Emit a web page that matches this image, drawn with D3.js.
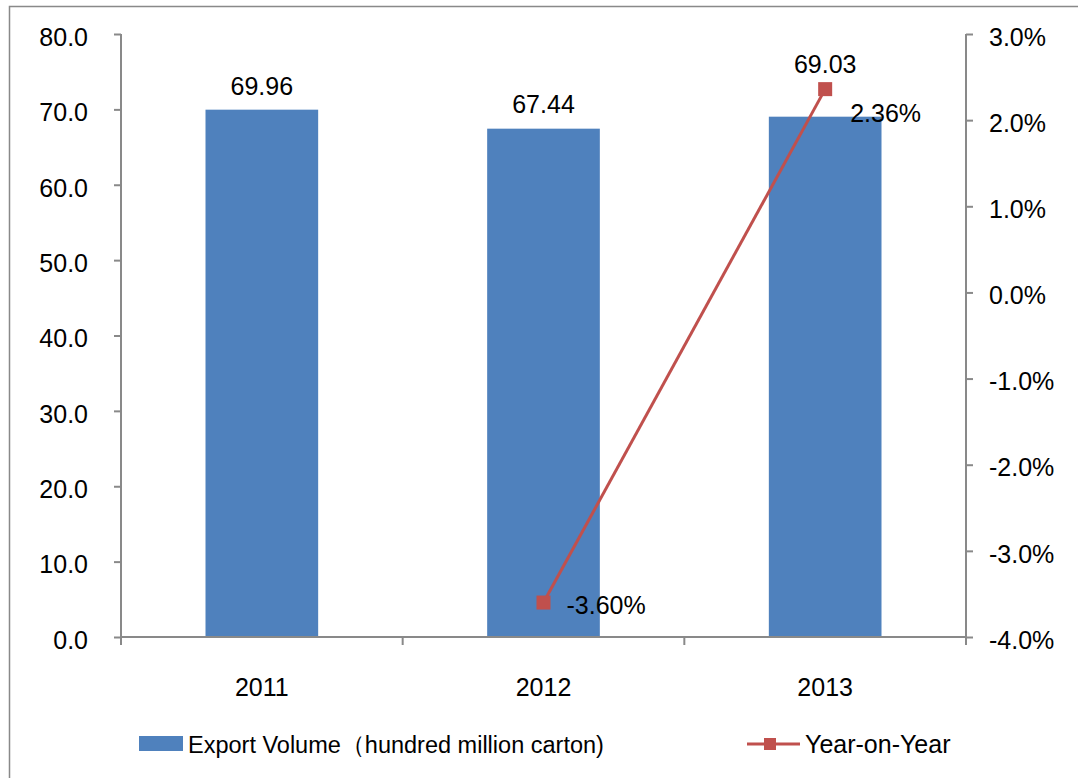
<!DOCTYPE html>
<html>
<head>
<meta charset="utf-8">
<script src="https://cdn.jsdelivr.net/npm/d3@7"></script>
<style>
  html, body { margin: 0; padding: 0; background: #fff; }
  svg { display: block; }
  text { font-family: "Liberation Sans", Arial, sans-serif; fill: #000; }
</style>
</head>
<body>
<svg id="chart" width="1078" height="778"></svg>
<script>
const categories = ["2011", "2012", "2013"];
const exportVolume = [69.96, 67.44, 69.03];
const yoy = [null, -3.60, 2.36];
const leftTicks = [0, 10, 20, 30, 40, 50, 60, 70, 80];
const rightTicks = [-4, -3, -2, -1, 0, 1, 2, 3];
const legendLabels = ["Export Volume（hundred million carton)", "Year-on-Year"];

const barColor = "#4F81BD";
const lineColor = "#C0504D";
const axisColor = "#898989";
const fs = 25;

const svg = d3.select("#chart");
const m = { left: 121, right: 966, top: 34, bottom: 637 };

// outer border
svg.append("rect").attr("x", 9.5).attr("y", 6.5).attr("width", 1100).attr("height", 800)
  .attr("fill", "none").attr("stroke", axisColor).attr("stroke-width", 1.5);

const x = d3.scaleBand().domain(categories).range([m.left, m.right]).paddingInner(0.6).paddingOuter(0.3);
const xOuter = d3.scaleBand().domain(categories).range([m.left, m.right]);
const yL = d3.scaleLinear().domain([0, 80]).range([m.bottom, m.top]);
const yR = d3.scaleLinear().domain([-4, 3]).range([m.bottom, m.top]);
const fmt1 = v => d3.format(".1f")(v).replace("−", "-");

// bars
svg.append("g").selectAll("rect").data(categories).join("rect")
  .attr("x", d => x(d)).attr("width", x.bandwidth())
  .attr("y", (d, i) => yL(exportVolume[i]))
  .attr("height", (d, i) => yL(0) - yL(exportVolume[i]))
  .attr("fill", barColor);

// left axis
const gL = svg.append("g").attr("transform", `translate(${m.left},0)`)
  .call(d3.axisLeft(yL).tickValues(leftTicks).tickFormat(fmt1).tickSize(7).tickPadding(26));
// right axis
const gR = svg.append("g").attr("transform", `translate(${m.right},0)`)
  .call(d3.axisRight(yR).tickValues(rightTicks).tickFormat(d => fmt1(d) + "%").tickSize(7).tickPadding(16));
// bottom axis
const gB = svg.append("g").attr("transform", `translate(0,${m.bottom})`)
  .call(d3.axisBottom(xOuter).tickSize(0).tickPadding(41));
const boundaries = [m.left].concat(categories.map(c => xOuter(c) + xOuter.bandwidth()));
gB.selectAll("line.bnd").data(boundaries).join("line").attr("class", "bnd")
  .attr("x1", d => d).attr("x2", d => d).attr("y1", 0).attr("y2", 8)
  .attr("stroke", axisColor).attr("stroke-width", 2);

[gL, gR, gB].forEach(g => {
  g.select(".domain").attr("stroke", axisColor).attr("stroke-width", 2);
  g.selectAll(".tick line").attr("stroke", axisColor).attr("stroke-width", 2);
  g.selectAll("text").attr("font-size", fs).attr("font-family", "Liberation Sans, Arial, sans-serif").attr("fill", "#000");
});
gL.selectAll(".tick text").attr("dy", "0.45em");
gR.selectAll(".tick text").attr("dy", "0.45em");
gL.select(".domain").attr("d", `M0,${m.top}V${m.bottom}`);
gR.select(".domain").attr("d", `M0,${m.top}V${m.bottom}`);
gB.select(".domain").attr("d", `M${m.left},0H${m.right}`);

// bar labels
const barLabelLift = [15, 16, 44];
svg.append("g").selectAll("text").data(categories).join("text")
  .attr("x", d => x(d) + x.bandwidth() / 2)
  .attr("y", (d, i) => yL(exportVolume[i]) - barLabelLift[i])
  .attr("text-anchor", "middle").attr("font-size", fs)
  .text((d, i) => exportVolume[i].toFixed(2));

// line
const pts = categories.map((c, i) => ({ c, v: yoy[i] })).filter(p => p.v !== null);
const cx = c => x(c) + x.bandwidth() / 2;
svg.append("path").datum(pts)
  .attr("d", d3.line().x(p => cx(p.c)).y(p => yR(p.v)))
  .attr("fill", "none").attr("stroke", lineColor).attr("stroke-width", 3);
svg.append("g").selectAll("rect").data(pts).join("rect")
  .attr("x", p => cx(p.c) - 7).attr("y", p => yR(p.v) - 7)
  .attr("width", 14).attr("height", 14).attr("fill", lineColor);

// line labels
const lineLabelOffset = [[23, 11], [25, 33]];
svg.append("g").selectAll("text").data(pts).join("text")
  .attr("x", (p, i) => cx(p.c) + lineLabelOffset[i][0])
  .attr("y", (p, i) => yR(p.v) + lineLabelOffset[i][1])
  .attr("font-size", fs)
  .text(p => p.v.toFixed(2) + "%");

// legend
const lg = svg.append("g");
lg.append("rect").attr("x", 139).attr("y", 736).attr("width", 44).attr("height", 15).attr("fill", barColor);
lg.append("text").attr("x", 188).attr("y", 753).attr("font-size", 23.5).text(legendLabels[0]);
lg.append("line").attr("x1", 747).attr("x2", 800).attr("y1", 744).attr("y2", 744)
  .attr("stroke", lineColor).attr("stroke-width", 3);
lg.append("rect").attr("x", 764).attr("y", 738).attr("width", 12).attr("height", 12).attr("fill", lineColor);
lg.append("text").attr("x", 805).attr("y", 753).attr("font-size", 25).text(legendLabels[1]);
</script>
</body>
</html>
